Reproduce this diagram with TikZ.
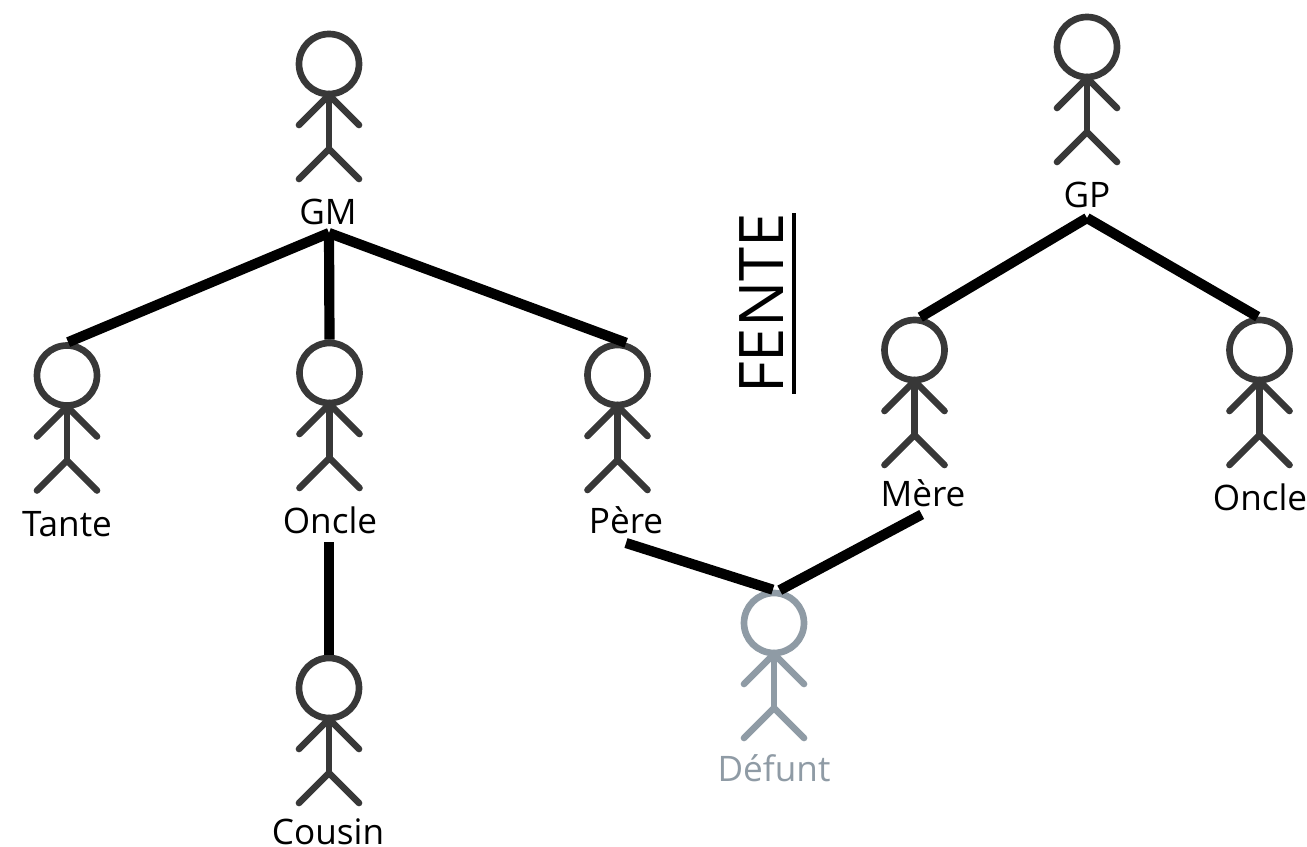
\documentclass[tikz,border=0pt]{standalone}
\usepackage{fontspec}
\setmainfont{Open Sans}
\usepackage{xcolor}
\usetikzlibrary{calc}
\definecolor{StickDark}{RGB}{56, 56, 56}
\definecolor{StickGray}{RGB}{143, 155, 165}
\tikzset{
    stickhead/.style={circle, draw, line width=3.8pt, minimum size=1.2cm, inner sep=0pt},
    limb/.style={line width=3.8pt, line cap=round, line join=round},
    branch/.style={line width=5.8pt, black},
    persontext/.style={inner sep=0pt, anchor=base, font=\fontsize{20}{24}\selectfont}
}
\newcommand{\stick}[3]{%
    \node[stickhead, #3] (#1) at (#2) {};
    \draw[limb, #3] ($(#1)+(0,30)$) -- ($(#1)+(0,84)$);
    \draw[limb, #3] ($(#1)+(-30,61)$) -- ($(#1)+(0,31)$) -- ($(#1)+(30,61)$);
    \draw[limb, #3] ($(#1)+(-30,115)$) -- ($(#1)+(0,85)$) -- ($(#1)+(30,115)$);
}
\begin{document}
\begin{tikzpicture}[x=0.02cm, y=-0.02cm]
        \useasboundingbox (0,0) rectangle (1307,847);

        % People
        \stick{gm}{329,64}{StickDark}
        \stick{gp}{1087,47}{StickDark}
        \stick{tante}{67,375.5}{StickDark}
        \stick{oncle}{329.5,373}{StickDark}
        \stick{pere}{617.5,375}{StickDark}
        \stick{mere}{914.5,350}{StickDark}
        \stick{oncleb}{1259.5,350}{StickDark}
        \stick{cousin}{329,688}{StickDark}
        \stick{defunt}{774,623}{StickGray}

        % Labels
        \node[persontext] (gmlabel) at (328,224.5) {GM};
        \node[persontext] (gplabel) at (1087,207.5) {GP};
        \node[persontext] (tantelabel) at (67,536.5) {Tante};
        \node[persontext] (onclelabel) at (330,533.5) {Oncle};
        \node[persontext] (perelabel) at (626,533.5) {Père};
        \node[persontext] (merelabel) at (923,506.5) {Mère};
        \node[persontext] (oncleblabel) at (1260,510.5) {Oncle};
        \node[persontext] (cousinlabel) at (328,844) {Cousin};
        \node[persontext, StickGray] (defuntlabel) at (774,781.5) {Défunt};

        % Fente
        \node[rotate=90, anchor=south, inner xsep=0pt, inner ysep=0.22cm, outer sep=0pt, font=\fontsize{35}{40}\selectfont] (fente) at (794,303.5) {FENTE};
        \draw[line width=2.8pt, black] (fente.south west) -- (fente.south east);

        % Branches
        \coordinate (gmroot) at (329,233);
        \coordinate (gproot) at (1087,218);
        \coordinate (onclefoot) at (329,542);
        \coordinate (perefoot) at (626,543);
        \coordinate (merefoot) at (921.7,514.5);
        \draw[branch] (gmroot) -- (tante.88);
        \draw[branch] (gmroot) -- (oncle.north);
        \draw[branch] (gmroot) -- (pere.75);
        \draw[branch] (gproot) -- (mere.80);
        \draw[branch] (gproot) -- (oncleb.93);
        \draw[branch] (onclefoot) -- (cousin.north);
        \draw[branch] (perefoot) -- (defunt.92);
        \draw[branch] (merefoot) -- (defunt.80);
    \end{tikzpicture}
\end{document}
